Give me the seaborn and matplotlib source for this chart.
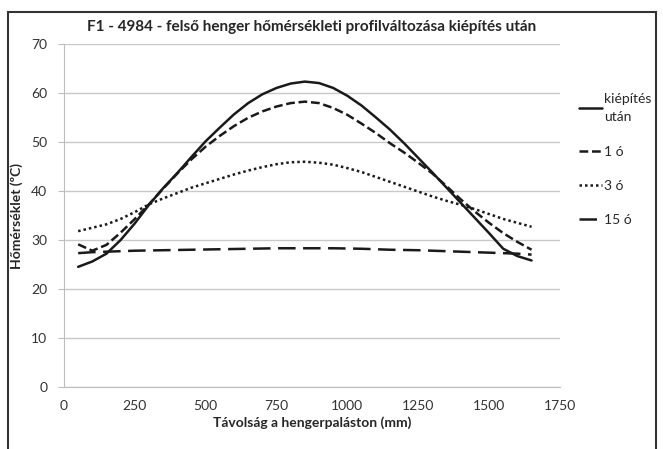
import matplotlib
matplotlib.use("Agg")
import matplotlib.pyplot as plt
from matplotlib.patches import Rectangle
import seaborn as sns
import pandas as pd

# distance along the roll surface (mm)
tav = [50, 100, 150, 200, 250, 300, 350, 400, 450, 500, 550, 600, 650, 700, 750, 800, 850,
       900, 950, 1000, 1050, 1100, 1150, 1200, 1250, 1300, 1350, 1400, 1450, 1500, 1550, 1600, 1650]

kiepites_utan = [24.5, 25.6, 27.2, 30.0, 33.4, 37.2, 40.6, 43.7, 47.0, 50.2, 53.0, 55.7, 58.0, 59.8, 61.1, 62.0, 62.4,
                 62.1, 61.1, 59.5, 57.5, 55.1, 52.6, 49.8, 46.8, 43.8, 40.7, 37.6, 34.5, 31.4, 28.2, 26.7, 25.8]
ora_1 = [29.1, 27.8, 29.0, 31.5, 34.3, 37.3, 40.5, 43.6, 46.5, 49.1, 51.3, 53.3, 55.0, 56.3, 57.3, 58.0, 58.3,
         58.0, 57.0, 55.6, 53.8, 51.9, 49.8, 47.9, 45.8, 43.6, 41.0, 38.3, 35.8, 33.5, 31.4, 29.6, 28.0]
ora_3 = [31.8, 32.5, 33.2, 34.3, 35.7, 37.3, 38.5, 39.6, 40.7, 41.6, 42.5, 43.4, 44.2, 44.9, 45.5, 45.9, 46.0,
         45.8, 45.4, 44.7, 43.9, 42.9, 41.9, 40.9, 39.9, 38.9, 38.0, 37.2, 36.3, 35.3, 34.3, 33.5, 32.7]
ora_15 = [27.3, 27.5, 27.6, 27.7, 27.8, 27.85, 27.9, 27.95, 28.0, 28.05, 28.1, 28.15, 28.2, 28.25, 28.3, 28.3, 28.3,
          28.3, 28.3, 28.25, 28.2, 28.1, 28.0, 27.95, 27.9, 27.8, 27.7, 27.6, 27.5, 27.4, 27.3, 27.2, 27.0]

names = ["kiépítés\nután", "1 ó", "3 ó", "15 ó"]
series = [kiepites_utan, ora_1, ora_3, ora_15]

rows = []
for name, vals in zip(names, series):
    for x, y in zip(tav, vals):
        rows.append({"tav": x, "hom": y, "meres": name})
df = pd.DataFrame(rows)

sns.set_style("white")
plt.rcParams['font.family'] = ['Lato', 'DejaVu Sans']

fig = plt.figure(figsize=(6.63, 4.49), dpi=100)
ax = fig.add_axes([0.0965, 0.139, 0.748, 0.762])

dashes = {
    names[0]: "",
    names[1]: (3.5, 1.5),
    names[2]: (1, 1.2),
    names[3]: (7, 3),
}
sns.lineplot(data=df, x="tav", y="hom", hue="meres", style="meres",
             palette=["#1a1a1a"] * 4, dashes=dashes, linewidth=1.8, ax=ax)

ax.set_xlim(0, 1750)
ax.set_ylim(0, 70)
ax.set_xticks(range(0, 1751, 250))
ax.set_yticks(range(0, 71, 10))
ax.yaxis.grid(True, color="#c8c8c8", linewidth=1)
ax.xaxis.grid(False)
for s in ["top", "right"]:
    ax.spines[s].set_visible(False)
ax.spines["left"].set_color("#bdbdbd")
ax.spines["bottom"].set_color("#bdbdbd")
ax.tick_params(axis="y", left=True, length=4, color="#bdbdbd", labelsize=10, labelcolor="#333333", pad=8)
ax.tick_params(axis="x", bottom=False, labelsize=10, labelcolor="#333333", pad=6)

ax.set_xlabel("Távolság a hengerpaláston (mm)", fontsize=10, fontweight="bold", labelpad=3)
ax.set_ylabel("Hőmérséklet (ºC)", fontsize=10, fontweight="bold", labelpad=6)
ax.set_title("F1 - 4984 - felső henger hőmérsékleti profilváltozása kiépítés után",
             fontsize=11, fontweight="bold", pad=10)

handles, labels = ax.get_legend_handles_labels()
leg = ax.legend(handles, labels, loc="upper left", bbox_to_anchor=(0.855, 0.82),
                bbox_transform=fig.transFigure, frameon=False, fontsize=10,
                handlelength=1.6, handletextpad=0.2, labelspacing=1.6)
leg.get_texts()[0].set_linespacing(1.6)

# outer chart frame
fig.patches.append(Rectangle((0.012, -0.05), 0.978, 1.023, transform=fig.transFigure,
                             fill=False, edgecolor="#333333", linewidth=1.5))

fig.savefig("out.png", dpi=100)
